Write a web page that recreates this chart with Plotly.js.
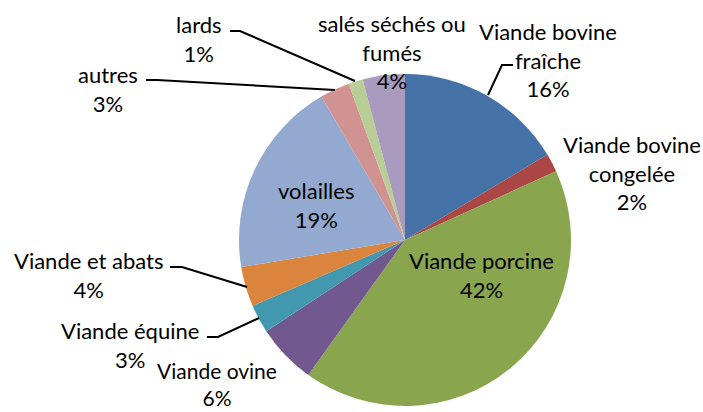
<!DOCTYPE html>
<html>
<head>
<meta charset="utf-8">
<script src="https://cdn.plot.ly/plotly-3.0.1.min.js"></script>
<style>html,body{margin:0;padding:0;background:#fff;}#chart{width:703px;height:412px;}</style>
</head>
<body>
<div id="chart"></div>
<script>
var categories = ["Viande bovine fraîche","Viande bovine congelée","Viande porcine","Viande ovine","Viande équine","Viande et abats","volailles","autres","lards","salés séchés ou fumés"];
var values = [16.4, 1.8, 41.7, 5.85, 2.75, 3.9, 19.2, 2.9, 1.4, 4.1];
var percentLabels = ["16%","2%","42%","6%","3%","4%","19%","3%","1%","4%"];
var labelLines = [["Viande bovine","fraîche"],["Viande bovine","congelée"],["Viande porcine"],["Viande ovine"],["Viande équine"],["Viande et abats"],["volailles"],["autres"],["lards"],["salés séchés ou","fumés"]];
var colors = ['#4572A7','#AA4643','#89A54E','#71588F','#4198AF','#DB843D','#93A9CF','#D19392','#B9CD96','#A99BBD'];

var W = 703, H = 412;
function px(x){ return x / W; }
function py(y){ return 1 - y / H; }

// label centre (top line) positions in pixels
var labelPos = [[548,30],[632,143],[481,260],[217,369],[130,330],[88,260],[316,190],[108,74],[199,24],[392,22]];
var lineH = 29.5;

var annotations = categories.map(function(c, i){
  var lines = labelLines[i].concat([percentLabels[i]]);
  var n = lines.length;
  var cy = labelPos[i][1] + (n - 1) * lineH / 2;
  return {
    xref: 'paper', yref: 'paper', x: px(labelPos[i][0]), y: py(cy),
    text: lines.join('<br>'), showarrow: false, xanchor: 'center', yanchor: 'middle',
    align: 'center', font: {family: 'Lato, sans-serif', size: 22, color: '#000'}
  };
});
// keep the bottom label fully inside the picture
annotations[3].font.size = 21;

var leaders = [
  [[230,31],[240,31],[355,81]],
  [[146,80],[157,80],[335,90]],
  [[513,65],[502,65],[488,95]],
  [[170,267],[182,267],[247,287]],
  [[207,337],[218,337],[259,318]]
];
var shapes = leaders.map(function(pts){
  var d = 'M' + pts.map(function(p){ return px(p[0]) + ',' + py(p[1]); }).join(' L');
  return {type: 'path', xref: 'paper', yref: 'paper', path: d, line: {color: '#000', width: 2}};
});

var trace = {
  type: 'pie', labels: categories, values: values, sort: false, direction: 'clockwise', rotation: 0,
  marker: {colors: colors, line: {width: 0}}, textinfo: 'none', hoverinfo: 'label+percent',
  domain: {x: [px(239), px(571)], y: [py(406), py(74)]}
};

Plotly.newPlot('chart', [trace], {
  width: W, height: H, margin: {l:0, r:0, t:0, b:0}, showlegend: false,
  paper_bgcolor: '#fff', annotations: annotations, shapes: shapes
}, {displayModeBar: false, staticPlot: true});
</script>
</body>
</html>
